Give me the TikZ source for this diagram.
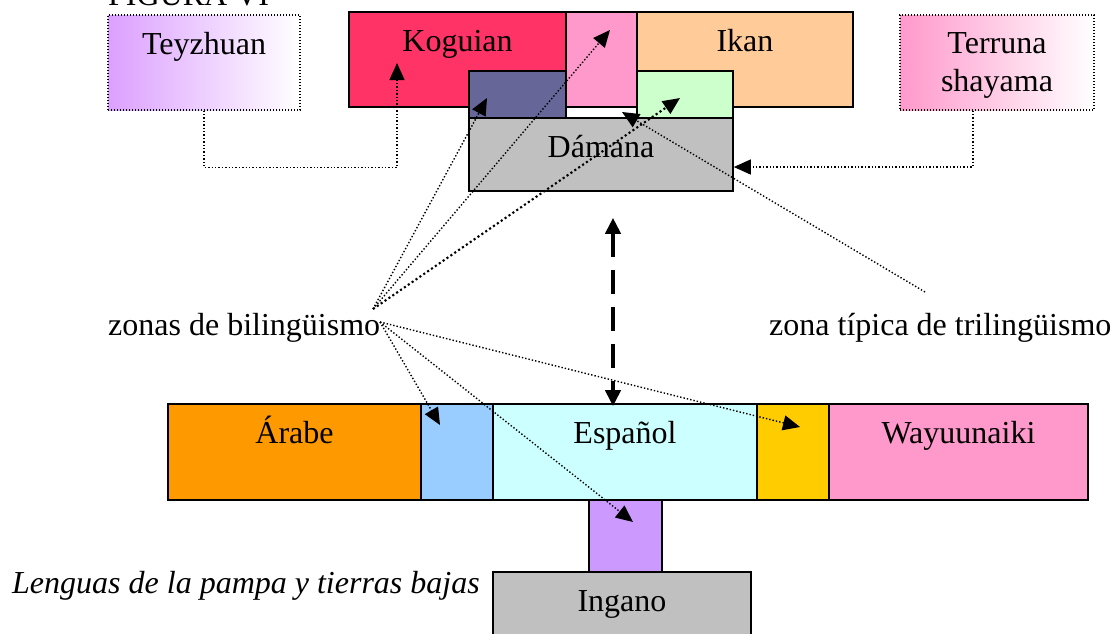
\documentclass[tikz,border=0pt]{standalone}
\usepackage{fontspec}
\setmainfont{Liberation Serif}
\usepackage{xcolor}
\usepackage{tikz}
\usetikzlibrary{arrows.meta,positioning,fit,calc}
\definecolor{rose}{HTML}{FF3366}
\definecolor{pinkz}{HTML}{FF99CC}
\definecolor{peach}{HTML}{FFCC99}
\definecolor{slate}{HTML}{666699}
\definecolor{mint}{HTML}{CCFFCC}
\definecolor{greyz}{HTML}{C0C0C0}
\definecolor{orangez}{HTML}{FF9900}
\definecolor{skyz}{HTML}{99CCFF}
\definecolor{icez}{HTML}{CCFFFF}
\definecolor{goldz}{HTML}{FFCC00}
\definecolor{lilac}{HTML}{CC99FF}
\definecolor{lilacfade}{HTML}{DCA0FF}

\begin{document}
\begin{tikzpicture}[x=1pt, y=-1pt,
  every node/.style={font=\fontsize{32}{38}\selectfont},
  zone/.style={draw, line width=1.6pt, inner sep=0pt, fill=#1},
  fade/.style={draw, line width=1.3pt, dash pattern=on 1.3pt off 1.7pt, inner sep=0pt, left color=#1, right color=white},
  toptext/.style={label={[anchor=base, inner sep=0pt, yshift=-40pt]north:#1}},
  conn/.style={line width=1.4pt, dash pattern=on 1.4pt off 2pt, -{Triangle[length=17pt, width=15pt]}},
  bidash/.style={line width=4pt, dash pattern=on 24pt off 13pt, {Triangle[length=16pt, width=15pt]}-{Triangle[length=16pt, width=15pt]}},
  lab/.style={inner sep=0pt}
]
\useasboundingbox (0,0) rectangle (1112,633);
\node[lab, anchor=base west] (fig) at (108,5) {FIGURA VI};

% lenguas de la sierra
\node[fade=lilacfade, fit={(108,15) (300,110)}, toptext=Teyzhuan] (teyz) {};
\node[zone=rose, fit={(349,12) (566,107)}, toptext=Koguian] (kog) {};
\node[zone=pinkz, fit={(566,12) (637,107)}] (kogik) {};
\node[zone=peach, fit={(637,12) (853,107)}, toptext=Ikan] (ikan) {};
\node[zone=slate, fit={(469,71) (566,118)}] (kogdam) {};
\node[zone=mint, fit={(637,71) (733,118)}] (ikdam) {};
\node[zone=greyz, fit={(469,118) (733,191)}, toptext=Dámana] (dam) {};
\node[fade=pinkz, fit={(900,15) (1094,110)},
  label={[align=center, yshift=-3pt]center:Terruna\\shayama}] (terr) {};

% franja del español
\foreach \n/\xa/\xb/\col/\txt in {arabe/168/421/orangez/Árabe, arabesp/421/493/skyz/,
    esp/493/757/icez/Español, espway/757/829/goldz/, way/829/1088/pinkz/Wayuunaiki} {
  \node[zone=\col, fit={(\xa,404) (\xb,500)}, toptext=\txt] (\n) {};
}
\node[zone=lilac, fit={(589,500) (662,572)}] (esping) {};
\node[zone=greyz, fit={(493,572) (751,650)}, toptext=Ingano] (ing) {};

\node[lab, anchor=base west] (bil) at (108,335) {zonas de bilingüismo};
\node[lab, anchor=base west] (tri) at (769,335) {zona típica de trilingüismo};
\node[lab, anchor=base west, font=\fontsize{32}{38}\selectfont\itshape] (pampa) at (12,593) {Lenguas de la pampa y tierras bajas};

\coordinate (hubup) at (373,309);
\coordinate (hubdn) at (380,322);
\coordinate (trifrom) at (925,292);

\draw[conn] (teyz.south) -- ++(0,57) -| (397,63);
\draw[conn] ($(terr.south)+(-24,0)$) |- ($(dam.east)+(0,12.5)$);

\draw[conn] (hubup) -- (487,98);
\draw[conn] (hubup) -- (610,30);
\draw[conn, line width=2.1pt, dash pattern=on 2.1pt off 2.6pt] (hubup) -- (680,98);
\draw[conn] (hubdn) -- (440,425);
\draw[conn] (hubdn) -- (633,522);
\draw[conn] (hubdn) -- (800,427);
\draw[conn] (trifrom) -- (622,112);

\draw[bidash] ($(dam.south)+(12,26)$) -- ($(esp.north)+(-12,3)$);
\end{tikzpicture}
\end{document}
